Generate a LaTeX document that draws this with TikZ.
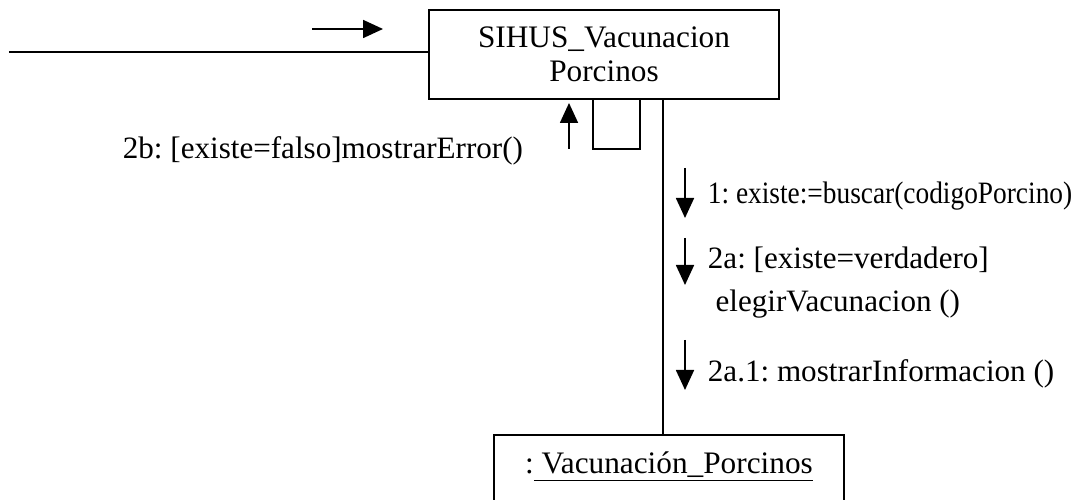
\documentclass[tikz,border=0pt]{standalone}
\usepackage{fontspec}
\setmainfont{Liberation Serif}
\usetikzlibrary{arrows.meta}

\begin{document}
\frenchspacing
\begin{tikzpicture}[>={Triangle[length=0.4cm,width=0.36cm]},line width=1pt,
  objeto/.style={draw,minimum width=7cm,inner sep=0pt,font=\fontsize{17.8}{19.4}\selectfont},
  mensaje/.style={inner sep=0pt,align=left,font=\fontsize{17.7}{25}\selectfont}]
  \useasboundingbox (0,0) rectangle (21.8,10);
  \clip (0,0) rectangle (21.8,10);
  % objetos
  \node[objeto,align=center,minimum height=1.78cm] (sihus) at (12.08,8.91) {SIHUS\_Vacunacion\\Porcinos};
  \node[objeto,anchor=base,text height=0.58cm,text depth=0.6cm,inner ysep=0.2cm] (vac) at (13.38,0.52) {:\underline{\ Vacunación\_Porcinos}};
  \coordinate (entrada) at (0.18,8.96);
  \coordinate (enlace) at (13.26,0);
  \coordinate (lazoA) at (11.86,7.02);
  \coordinate (lazoB) at (12.8,7.02);
  \draw (entrada) -- (entrada -| sihus.west);
  \draw (sihus.south -| enlace) -- (vac.north -| enlace);
  \draw (sihus.south -| lazoA) -- (lazoA) -- (lazoB) -- (sihus.south -| lazoB);
  % mensajes
  \draw[->] (6.24,9.42) -- (7.66,9.42);
  \draw[->] (11.38,7.02) -- (11.38,7.94);
  \node[mensaje,anchor=base west] (m2b) at (2.44,6.82) {2b: [existe=falso]mostrarError()};
  \draw[->] (13.7,6.64) -- (13.7,5.64);
  \node[mensaje,anchor=base west] (m1) at (14.14,5.92) {\addfontfeatures{FakeStretch=0.88}1: existe:=buscar(codigoPorcino)};
  \draw[->] (13.7,5.24) -- (13.7,4.3);
  \node[mensaje,anchor=base west] (m2a) at (14.14,3.76) {2a: [existe=verdadero]\\\ elegirVacunacion ()};
  \draw[->] (13.7,3.2) -- (13.7,2.2);
  \node[mensaje,anchor=base west] (m2a1) at (14.14,2.36) {2a.1: mostrarInformacion ()};
\end{tikzpicture}
\end{document}
